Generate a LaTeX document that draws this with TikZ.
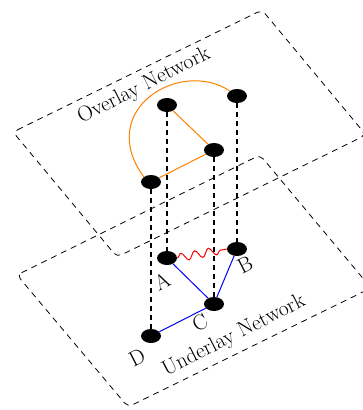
\documentclass[tikz,border=0pt]{standalone}
\usetikzlibrary{shapes.geometric,decorations.pathmorphing}
\begin{document}
\begin{tikzpicture}[x=1pt,y=-1pt,
  plane/.style={draw,dashed,dash pattern=on 6pt off 5pt,line width=0.8pt,rounded corners=5pt},
  vnode/.style={ellipse,fill=black,minimum width=20pt,minimum height=14pt,inner sep=0pt},
  proj/.style={dashed,dash pattern=on 5pt off 4pt,line width=1.1pt},
  olink/.style={orange,line width=1pt},
  ulink/.style={blue,line width=1pt},
  lbl/.style={font=\fontsize{21.5}{26}\selectfont,rotate=27,inner sep=0pt}]
\useasboundingbox (0,0) rectangle (363,410);
% planes
\draw[plane] (13,132) -- (262,10) -- (366,135) -- (117,257) -- cycle;
\draw[plane] (17,275) -- (260,155) -- (371,288) -- (128,407) -- cycle;
\node[lbl] (ovl) at (144,86) {Overlay Network};
\node[lbl] (unl) at (234,336) {Underlay Network};
% nodes
\node[vnode] (o1) at (167,105) {};
\node[vnode] (o2) at (237,96) {};
\node[vnode] (o3) at (214,150) {};
\node[vnode] (o4) at (151,182) {};
\node[vnode] (a) at (167,258) {};
\node[vnode] (b) at (237,249) {};
\node[vnode] (c) at (214,304) {};
\node[vnode] (d) at (151,336) {};
% labels
\node[lbl] (la) at (162,281) {A};
\node[lbl] (lb) at (245,265) {B};
\node[lbl] (lc) at (200,323) {C};
\node[lbl] (ld) at (137,358) {D};
% projections
\draw[proj] (o1) -- (a);
\draw[proj] (o2) -- (b);
\draw[proj] (o3) -- (c);
\draw[proj] (o4) -- (d);
% overlay links
\draw[olink] (o1) -- (o3);
\draw[olink] (o3) -- (o4);
\draw[olink] (o4.north west) .. controls (95,110) and (180,58) .. (o2.north west);
% underlay links
\draw[ulink] (a) -- (c);
\draw[ulink] (b) -- (c);
\draw[ulink] (c) -- (d);
\draw[red,line width=1pt,decorate,decoration={snake,segment length=14pt,amplitude=4pt}] (a.east) -- (b.west);
\end{tikzpicture}
\end{document}
